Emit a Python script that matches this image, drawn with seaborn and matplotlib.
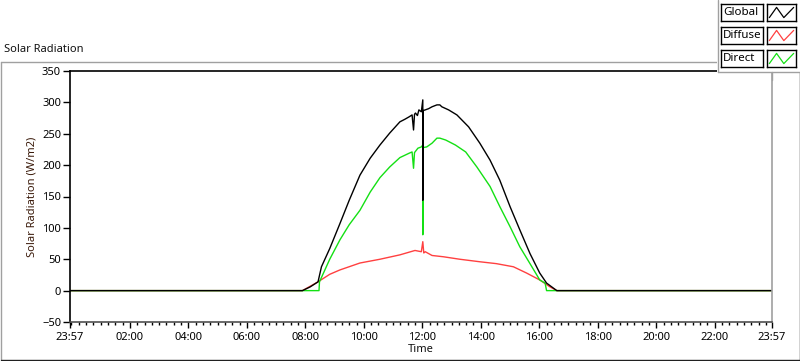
import matplotlib
matplotlib.use("Agg")
import matplotlib.pyplot as plt
import matplotlib.ticker as mticker
from matplotlib.patches import Rectangle
from matplotlib.lines import Line2D
import pandas as pd
import seaborn as sns

# Data (times HH:MM, values in W/m2); first "23:57" = previous day
global_times = ["23:57", "07:54", "08:10", "08:26", "08:33", "08:50", "09:11", "09:30", "09:52",
                "10:13", "10:33", "10:53", "11:14", "11:24", "11:33", "11:39", "11:42", "11:44",
                "11:46", "11:50", "11:53", "11:58", "12:01", "12:01", "12:02", "12:06", "12:13",
                "12:20", "12:30", "12:36", "12:40", "12:54", "13:11", "13:35", "13:58", "14:19",
                "14:39", "15:00", "15:20", "15:41", "16:01", "16:15", "16:36", "23:57"]
global_vals = [0, 0, 6, 14, 38, 67, 107, 144, 184,
               211, 232, 251, 269, 273, 277, 280, 256, 281,
               283, 279, 288, 285, 304, 144, 287, 288, 290,
               293, 296, 296, 293, 288, 280, 261, 235, 208,
               176, 134, 97, 59, 28, 12, 0, 0]

diffuse_times = ["23:57", "07:54", "08:10", "08:26", "08:50", "09:11", "09:52", "10:33", "11:14",
                 "11:45", "11:58", "12:01", "12:03", "12:06", "12:20", "12:43", "13:17", "13:58",
                 "14:32", "15:07", "15:34", "16:01", "16:22", "16:36", "23:57"]
diffuse_vals = [0, 0, 7, 14, 26, 33, 44, 50, 57,
                64, 62, 78, 60, 62, 56, 54, 50, 46,
                43, 38, 28, 17, 6, 0, 0]

direct_times = ["23:57", "07:54", "08:28", "08:29", "08:50", "09:11", "09:30", "09:52", "10:13",
                "10:33", "10:53", "11:14", "11:33", "11:39", "11:42", "11:44", "11:51", "11:58",
                "12:01", "12:01", "12:02", "12:09", "12:20", "12:30", "12:36", "12:48", "13:08",
                "13:29", "13:52", "14:19", "14:39", "15:00", "15:20", "15:41", "16:01", "16:12",
                "16:15", "16:36", "23:57"]
direct_vals = [0, 0, 0, 14, 50, 81, 105, 128, 157,
               180, 197, 212, 219, 221, 195, 220, 227, 229,
               232, 89, 228, 229, 235, 243, 243, 240, 232,
               221, 197, 166, 134, 102, 70, 43, 17, 12,
               0, 0, 0]

series_names = ["Global", "Diffuse", "Direct"]
series_colors = {"Global": "#000000", "Diffuse": "#ff4040", "Direct": "#14e014"}
x_tick_labels = ["23:57", "02:00", "04:00", "06:00", "08:00", "10:00", "12:00",
                 "14:00", "16:00", "18:00", "20:00", "22:00", "23:57"]


def to_hours(times):
    out = []
    for i, t in enumerate(times):
        h, m = t.split(":")
        v = int(h) + int(m) / 60
        if i == 0 and v > 12:
            v -= 24  # window starts the evening before
        out.append(v)
    return out


frames = []
for name, tt, vv in [("Diffuse", diffuse_times, diffuse_vals),
                     ("Direct", direct_times, direct_vals),
                     ("Global", global_times, global_vals)]:
    frames.append(pd.DataFrame({"hour": to_hours(tt), "value": vv, "series": name}))
df = pd.concat(frames, ignore_index=True)

sns.set_theme(style="white")
plt.rcParams["font.family"] = ["Noto Sans", "DejaVu Sans"]

W, H = 800, 361
fig = plt.figure(figsize=(8, 3.61), dpi=100)


def fx(px):
    return px / W


def fy(py):
    return 1 - py / H


# outer sunken frame
fig.add_artist(Line2D([fx(0.5), fx(799)], [fy(61.5), fy(61.5)], color="#a0a0a0", lw=1))
fig.add_artist(Line2D([fx(0.5), fx(0.5)], [fy(61.5), fy(360)], color="#a0a0a0", lw=1))
fig.add_artist(Line2D([fx(0.5), fx(799.5)], [fy(360), fy(360)], color="#202020", lw=1))
fig.add_artist(Line2D([fx(799.5), fx(799.5)], [fy(61.5), fy(360)], color="#202020", lw=1))

fig.text(fx(4), fy(50), "Solar Radiation", fontsize=8, va="center", ha="left", color="#111111")

ax = fig.add_axes([fx(70), fy(322), fx(771.7) - fx(70), fy(71) - fy(322)])
sns.lineplot(data=df, x="hour", y="value", hue="series", hue_order=["Diffuse", "Direct", "Global"],
             palette=series_colors, estimator=None, sort=False, legend=False, lw=1.0, ax=ax)

ax.set_xlim(-0.05, 23.95)
ax.set_ylim(-50, 350)
ax.yaxis.set_major_locator(mticker.MultipleLocator(50))
major_x = [-0.05] + list(range(2, 23, 2)) + [23.95]
ax.xaxis.set_major_locator(mticker.FixedLocator(major_x))
ax.xaxis.set_major_formatter(mticker.FixedFormatter(x_tick_labels))
ax.xaxis.set_minor_locator(mticker.FixedLocator([q / 4 for q in range(0, 96)]))

ax.tick_params(axis="y", which="major", direction="out", length=5, width=1, pad=1.5,
               labelsize=8, colors="#000000", left=True)
ax.tick_params(axis="x", which="major", direction="out", length=4, width=1, pad=3,
               labelsize=8, colors="#000000", bottom=True)
ax.tick_params(axis="x", which="minor", direction="out", length=2.5, width=1, bottom=True,
               color="#000000")

ax.set_xlabel("Time", fontsize=8, labelpad=1, color="#111111")
ax.set_ylabel("Solar Radiation (W/m2)", fontsize=8, labelpad=3, color="#3a1a0a")
ax.grid(False)
for side, col in [("left", "#000000"), ("top", "#000000"), ("bottom", "#505050"), ("right", "#a0a0a0")]:
    ax.spines[side].set_visible(True)
    ax.spines[side].set_color(col)
    ax.spines[side].set_linewidth(1.2)

# legend panel at top-right (drawn as a separate widget, like the reference)
fig.add_artist(Rectangle((fx(717), fy(72)), fx(800) - fx(717), fy(0) - fy(72),
                         transform=fig.transFigure, facecolor="white", edgecolor="none", zorder=5))
fig.add_artist(Line2D([fx(717.5), fx(717.5)], [fy(0), fy(72)], color="#a0a0a0", lw=1, zorder=6))
fig.add_artist(Line2D([fx(717.5), fx(800)], [fy(72), fy(72)], color="#a0a0a0", lw=1, zorder=6))
fig.add_artist(Line2D([fx(771.7), fx(771.7)], [fy(72), fy(80)], color="#a0a0a0", lw=1, zorder=6))

row_tops = [4, 27, 50]
for name, top in zip(series_names, row_tops):
    tax = fig.add_axes([fx(721), fy(top + 17), fx(763) - fx(721), fy(top) - fy(top + 17)], zorder=7)
    tax.set_xticks([])
    tax.set_yticks([])
    tax.set_facecolor("white")
    for s in tax.spines.values():
        s.set_visible(True)
        s.set_color("#000000")
        s.set_linewidth(1)
    tax.text(0.05, 0.5, name, transform=tax.transAxes, fontsize=8.3, va="center", ha="left",
             color="#000000")

    lax = fig.add_axes([fx(767), fy(top + 17), fx(796) - fx(767), fy(top) - fy(top + 17)], zorder=7)
    lax.set_xticks([])
    lax.set_yticks([])
    lax.set_facecolor("white")
    for s in lax.spines.values():
        s.set_visible(True)
        s.set_color("#000000")
        s.set_linewidth(1)
    lax.plot([0.08, 0.33, 0.58, 0.92], [0.2, 0.8, 0.2, 0.8], color=series_colors[name], lw=0.9)
    lax.set_xlim(0, 1)
    lax.set_ylim(0, 1)

fig.savefig("out.png", dpi=100, facecolor="white")
